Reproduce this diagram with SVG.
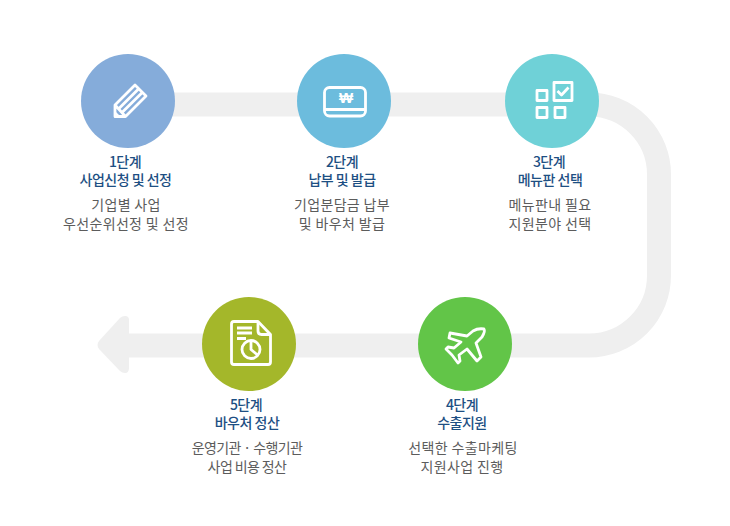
<svg xmlns="http://www.w3.org/2000/svg" width="730" height="526" viewBox="0 0 730 526">
<style>
text{font-family:"Noto Sans CJK KR","Noto Sans",sans-serif;text-anchor:middle}
.t{font-size:14px;font-weight:500;fill:#1d4f83;letter-spacing:-.5px}
.d{font-size:14px;fill:#5c5c5c;letter-spacing:.35px}
.n{letter-spacing:-.6px}
.i{fill:none;stroke:#fff;stroke-width:2.8;stroke-linejoin:round}
</style>
<rect width="730" height="526" fill="#fff"/>
<g id="connectors">
<path d="M128 104.500H589A70 70 0 0 1 659 174.500V275.500A70 70 0 0 1 589 345.500H125" fill="none" stroke="#efefef" stroke-width="24"/>
<path d="M129 320V368Q129 373 125 373Q122 373 120 371L99 349Q96 345 99 341L120 318Q122 316 125 316Q129 316 129 320Z" fill="#efefef"/>
</g>
<g id="node1">
<circle cx="128" cy="101" r="47" fill="#85acda"/>
<path class="i" d="M115 116.500V105L135 85L146 96L125.500 116.500ZM115 105L125.500 116.500" stroke-width="2.200"/>
<path class="i" d="M118.700 108.800L138.700 88.700M122 112.500L142.300 92.400" stroke-width="1.700"/>
<path d="M114 117.500V110L121.500 117.500Z" fill="#fff"/>
<text class="t"><tspan x="125" y="166.500">1단계</tspan><tspan x="125.500" y="184.500">사업신청 및 선정</tspan></text>
<text class="d"><tspan x="126" y="209.500">기업별 사업</tspan><tspan x="126" y="228.500">우선순위선정 및 선정</tspan></text>
</g>
<g id="node2">
<circle cx="344" cy="101" r="47" fill="#6cbcdd"/>
<rect class="i" x="324.500" y="87.500" width="41" height="28.500" rx="5"/>
<path d="M324 109.500H366" class="i"/>
<text x="346" y="103" style="font-family:'Liberation Sans',sans-serif;font-size:15px;font-weight:700;fill:#fff">₩</text>
<text class="t"><tspan x="342" y="166.500">2단계</tspan><tspan x="342" y="184.500">납부 및 발급</tspan></text>
<text class="d"><tspan x="342" y="209.500">기업분담금 납부</tspan><tspan x="342" y="228.500">및 바우처 발급</tspan></text>
</g>
<g id="node3">
<circle cx="552" cy="101" r="47" fill="#6fd1d7"/>
<g class="i"><rect x="537" y="90.500" width="10" height="10"/><rect x="537" y="107.500" width="10" height="10"/><rect x="555" y="107.500" width="10" height="10"/><rect x="554" y="82.500" width="18" height="18"/></g>
<path class="i" d="M557.500 91L561.500 95L568.500 87.500"/>
<text class="t"><tspan x="549" y="166.500">3단계</tspan><tspan x="550" y="184.500">메뉴판 선택</tspan></text>
<text class="d"><tspan x="550" y="209.500">메뉴판내 필요</tspan><tspan x="550" y="228.500">지원분야 선택</tspan></text>
</g>
<g id="node4">
<circle cx="465" cy="344" r="47" fill="#62c548"/>
<path class="i" d="M484 329Q485.500 331 482 337L476 343L481 357L477 361L467 349L459 355L460 361L458 363L452 355L446 349L448 347L454 348L461 342L449 338L450 333L467 336L473 331Q478 328 484 329Z"/>
<text class="t"><tspan x="462" y="409.500">4단계</tspan><tspan x="462" y="427.500">수출지원</tspan></text>
<text class="d"><tspan x="463" y="452.500">선택한 수출마케팅</tspan><tspan x="462" y="471.500">지원사업 진행</tspan></text>
</g>
<g id="node5">
<circle cx="249" cy="344" r="47" fill="#a4b72a"/>
<path class="i" d="M258 321.500H234Q231.500 321.500 231.500 324V362Q231.500 364.500 234 364.500H268Q270.500 364.500 270.500 362V334.500Z"/>
<path class="i" d="M258 322V331Q258 334.500 261.500 334.500H270.500"/>
<path class="i" d="M237 328H252M237 333H252M237 338.500H246" stroke-width="2"/>
<circle class="i" cx="251" cy="349.500" r="9"/>
<path class="i" d="M251 341V349.500L257.500 355" stroke-width="2.200"/>
<text class="t"><tspan x="246" y="409.500">5단계</tspan><tspan x="247" y="427.500">바우처 정산</tspan></text>
<text class="d n"><tspan x="247" y="452.500">운영기관 · 수행기관</tspan><tspan x="247" y="471.500">사업 비용 정산</tspan></text>
</g>
</svg>
